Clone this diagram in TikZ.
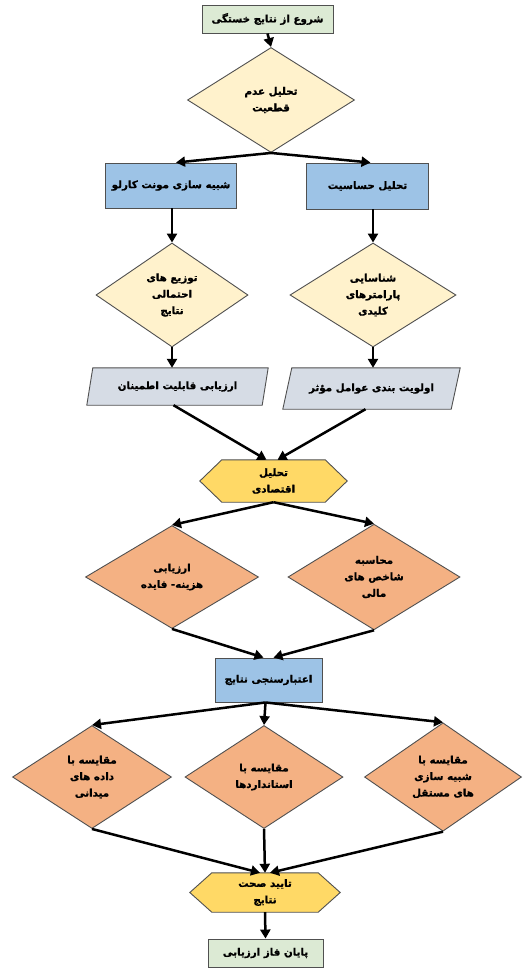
\documentclass[tikz,border=0pt]{standalone}
\usepackage{fontspec}
\newfontfamily\arabicfont[Script=Arabic, BoldFeatures={FakeBold=1.2}]{DejaVu Sans}
\TeXXeTstate=1
\usetikzlibrary{shapes.geometric,arrows.meta,backgrounds,calc}
\newcommand{\fa}[1]{{\arabicfont\bfseries\beginR #1\endR}}
\definecolor{cgreen}{HTML}{DCEAD4}
\definecolor{clyel}{HTML}{FFF2CC}
\definecolor{cblue}{HTML}{9DC3E6}
\definecolor{cgray}{HTML}{D6DCE5}
\definecolor{chex}{HTML}{FFD966}
\definecolor{corange}{HTML}{F4B183}
\definecolor{cborder}{HTML}{505050}
\tikzset{
  base/.style={draw=cborder, line width=0.9pt, align=center, inner sep=1pt, font=\fontsize{10.3}{16.5}\selectfont},
  greenbox/.style={base, rectangle, fill=cgreen},
  bluebox/.style={base, rectangle, fill=cblue},
  ydiam/.style={base, diamond, fill=clyel},
  odiam/.style={base, diamond, fill=corange},
  shapeholder/.style={rectangle, align=center, inner sep=1pt, font=\fontsize{10.3}{16.5}\selectfont},
  shapeline/.style={draw=cborder, line width=0.9pt},
  arr/.style={-{Triangle[length=9pt,width=10pt]}, line width=2.5pt, black},
}
\begin{document}
\begin{tikzpicture}[x=1pt,y=-1pt]
\useasboundingbox (0,0) rectangle (529,968);
% nodes
\node[greenbox, minimum width=131, minimum height=28] (start) at (267.5,19) {\fa{شروع از نتایج خستگی}};
\node[ydiam, minimum width=167, minimum height=105] (d1) at (271,100) {\fa{تحلیل عدم}\\\fa{قطعیت}};
\node[bluebox, minimum width=131, minimum height=45] (mc) at (171,185.5) {\fa{شبیه سازی مونت کارلو}};
\node[bluebox, minimum width=122, minimum height=46] (sens) at (367.5,186) {\fa{تحلیل حساسیت}};
\node[ydiam, minimum width=152, minimum height=104] (d2L) at (172,295) {\fa{توزیع های}\\\fa{احتمالی}\\\fa{نتایج}};
\node[ydiam, minimum width=166, minimum height=104] (d2R) at (373,295) {\fa{شناسایی}\\\fa{پارامترهای}\\\fa{کلیدی}};
\node[shapeholder, minimum width=181, minimum height=37] (pL) at (177.5,386.5) {\fa{ارزیابی قابلیت اطمینان}};
\node[shapeholder, minimum width=177, minimum height=41] (pR) at (371.5,388.5) {\fa{اولویت بندی عوامل مؤثر}};
\node[shapeholder, minimum width=147, minimum height=42] (hex1) at (273.5,481) {\fa{تحلیل}\\\fa{اقتصادی}};
\node[odiam, minimum width=173, minimum height=103] (ecoL) at (172,577) {\fa{ارزیابی}\\\fa{هزینه- فایده}};
\node[odiam, minimum width=172, minimum height=103] (ecoR) at (374,577) {\fa{محاسبه}\\\fa{شاخص های}\\\fa{مالی}};
\node[bluebox, minimum width=107, minimum height=44] (val) at (268.5,680) {\fa{اعتبارسنجی نتایج}};
\node[odiam, minimum width=159, minimum height=103] (cmpL) at (92,777) {\fa{مقایسه با}\\\fa{داده های}\\\fa{میدانی}};
\node[odiam, minimum width=158, minimum height=103] (cmpM) at (264,777) {\fa{مقایسه با}\\\fa{استانداردها}};
\node[odiam, minimum width=157, minimum height=103] (cmpR) at (443,777) {\fa{مقایسه با}\\\fa{شبیه سازی}\\\fa{های مستقل}};
\node[shapeholder, minimum width=150, minimum height=39] (hex2) at (265,892.5) {\fa{تایید صحت}\\\fa{نتایج}};
\node[greenbox, minimum width=115, minimum height=28] (end) at (265.5,953) {\fa{پایان فاز ارزیابی}};
% custom shapes behind text
\begin{scope}[on background layer]
\draw[shapeline, fill=cgray] ($(pL.south west)$) -- ($(pL.north west)+(6,0)$) -- (pL.north east) -- ($(pL.south east)+(-6,0)$) -- cycle;
\draw[shapeline, fill=cgray] ($(pR.south west)$) -- ($(pR.north west)+(9,0)$) -- (pR.north east) -- ($(pR.south east)+(-9,0)$) -- cycle;
\draw[shapeline, fill=chex] (hex1.west) -- ($(hex1.north west)+(22,0)$) -- ($(hex1.north east)+(-22,0)$) -- (hex1.east) -- ($(hex1.south east)+(-22,0)$) -- ($(hex1.south west)+(22,0)$) -- cycle;
\draw[shapeline, fill=chex] (hex2.west) -- ($(hex2.north west)+(22,0)$) -- ($(hex2.north east)+(-22,0)$) -- (hex2.east) -- ($(hex2.south east)+(-22,0)$) -- ($(hex2.south west)+(22,0)$) -- cycle;
\end{scope}
% connectors
\draw[arr] (start.south) -- (d1.north);
\draw[arr] (d1.south) -- ([xshift=5]mc.north);
\draw[arr] (d1.south) -- ([xshift=3]sens.north);
\draw[arr] (mc.south -| d2L.north) -- (d2L.north);
\draw[arr] (sens.south -| d2R.north) -- (d2R.north);
\draw[arr] (d2L.south) -- (d2L.south |- pL.north);
\draw[arr] (d2R.south) -- (d2R.south |- pR.north);
\draw[arr] ([xshift=-4]pL.south) -- ([xshift=-7]hex1.north);
\draw[arr] ([xshift=-6]pR.south) -- ([xshift=4]hex1.north);
\draw[arr] (hex1.south) -- (ecoL.north);
\draw[arr] (hex1.south) -- (ecoR.north);
\draw[arr] (ecoL.south) -- ([xshift=-5]val.north);
\draw[arr] (ecoR.south) -- ([xshift=5]val.north);
\draw[arr] ([xshift=-3]val.south) -- (cmpL.north);
\draw[arr] ([xshift=-3]val.south) -- (cmpM.north);
\draw[arr] ([xshift=-3]val.south) -- (cmpR.north);
\draw[arr] (cmpL.south) -- ([xshift=-5]hex2.north);
\draw[arr] (cmpM.south) -- (hex2.north);
\draw[arr] (cmpR.south) -- ([xshift=5]hex2.north);
\draw[arr] (hex2.south) -- (end.north);
\end{tikzpicture}
\end{document}
